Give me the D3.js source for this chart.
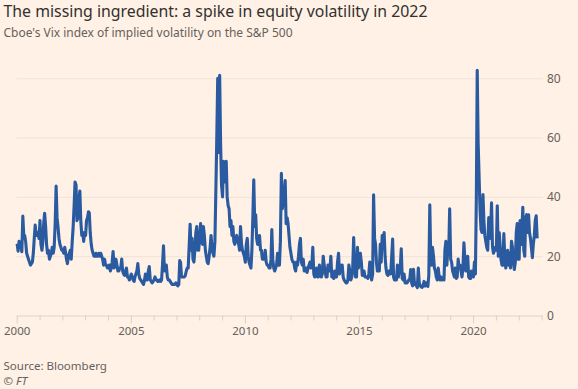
<!DOCTYPE html>
<html lang="en">
<head>
<meta charset="UTF-8">
<title>Vix index</title>
<style>
  html, body { margin: 0; padding: 0; background: #fff1e5; }
  svg { display: block; }
</style>
</head>
<body>
<script src="https://cdn.jsdelivr.net/npm/d3@7"></script>
<script>
// Vix, two readings a month (early / late)
var vix2000 = [24.2,21.7, 25,23.5, 24,21.5, 33.5,27, 27,25, 21,20, 19,18, 17,17.5, 18,21, 26,30.5, 27,28, 28,26];
var vix2001 = [32,24, 22,25, 31,34.5, 30,24, 21,22, 19,20, 21,23, 21,23, 31,43.7, 33,30, 26,24, 23,22];
var vix2002 = [22,21, 23,21, 19,17.5, 20,21, 22,19, 25,30, 37,45, 44,32, 33,39, 42,32, 27,28, 25,28];
var vix2003 = [27,32, 33,35, 34.6,28, 24,22, 21,20, 20,21, 20,20, 21,20, 21,20, 19,17, 19,17, 17,16];
var vix2004 = [16,17, 15,16, 18,21.6, 16,17, 19,17, 15,15, 16,16, 19,15, 14,13.5, 15,16, 13,13, 12,13];
var vix2005 = [14,13, 12,11.5, 13,14, 15,17.5, 14,12.5, 12,11.5, 11,10.5, 12,14, 12,12, 15,16.5, 12,11.5, 11,11.5];
var vix2006 = [12,13, 12,12, 11.5,11.5, 12,11.5, 12,17, 23.5,15, 16,17, 13,12, 12,11.5, 11,10.5, 10.5,10.5, 10.5,11];
var vix2007 = [10.5,10, 10.5,18.5, 18,13, 13,13, 13,13.5, 15,16, 16,23, 30.8,22, 26,19, 18,22, 28,30, 22,22];
var vix2008 = [26,31, 25,24, 30,27, 22,20, 18,17.5, 20,23, 27,23, 21,20, 25,42, 60,80, 55,81, 58,44];
var vix2009 = [40,52, 45,48, 52,40, 37,36, 30,32, 27,30, 25,24, 26,27, 25,24, 22,30, 24,22, 21,20];
var vix2010 = [18,24, 26,20, 18,17, 16,22, 33,45.8, 30,34, 26,24, 24,27, 22,22, 19,20, 19,22, 18,17];
var vix2011 = [17,16, 16,19, 29,19, 16,15, 16,17, 21,17, 17,25, 48,36, 38,41, 45.5,31, 33,31, 27,23];
var vix2012 = [21,19, 18,18, 16,15, 18,17, 20,24, 26,18, 17,19, 15,15, 16,14.5, 16,17, 18,16, 17,23];
var vix2013 = [14,13, 14,16, 13,13, 17,14, 13,14, 20,17, 15,13, 13,17, 15,15, 20,13, 13,12.5, 15,13];
var vix2014 = [13,18, 21,14, 17,15, 17,13, 12,11.5, 11,11, 12,17, 15,12, 13,16, 26.3,16, 13,13, 23,16];
var vix2015 = [20,21, 18,13.5, 15,15, 13,13, 13,12.5, 14,18, 14,12, 14,40.7, 26,24, 18,15, 17,15, 24,18];
var vix2016 = [27,23, 28,20, 16,14, 13.5,15, 14,14, 20,25.8, 13,12, 12,12, 17,13, 15,16, 22.5,12.5, 12,14];
var vix2017 = [11,11, 11,11.5, 12,12, 15.5,11, 10,15.6, 10.5,11, 10,9.4, 16,11, 10,9.6, 9.5,10, 11.5,10, 10,11];
var vix2018 = [9.8,13.5, 37.3,19, 17,23, 20,16, 15,13, 12,16, 13,12, 13,12, 12.5,12, 22,25, 17,22, 22,36];
var vix2019 = [19,18, 15,14, 13,16, 12.5,13, 19,16, 17,15, 13,16, 24.5,19, 15,15, 20,13, 12.5,12.5, 15,14];
var vix2020 = [13,18, 14,40, 82.7,58, 46,35, 29,28, 40.8,32, 27,25, 23,22, 33,26, 28,38, 23,21, 22,23];
var vix2021 = [22,37, 20,28, 24,19, 17,17, 27.6,20, 16,20, 22,17, 21,16, 25,23, 18,15.5, 18,28, 31,19];
var vix2022 = [19,32, 24,30, 36.5,22, 20,33, 34,28, 34,28, 26,23, 19.5,24, 27,32, 33.6,26];

var years = [2000,2001,2002,2003,2004,2005,2006,2007,2008,2009,2010,2011,
             2012,2013,2014,2015,2016,2017,2018,2019,2020,2021,2022];
var yearValues = [vix2000,vix2001,vix2002,vix2003,vix2004,vix2005,vix2006,vix2007,
                  vix2008,vix2009,vix2010,vix2011,vix2012,vix2013,vix2014,vix2015,
                  vix2016,vix2017,vix2018,vix2019,vix2020,vix2021,vix2022];
var yTicks = [0, 20, 40, 60, 80];
var xLabelYears = [2000, 2005, 2010, 2015, 2020];

var title = "The missing ingredient: a spike in equity volatility in 2022";
var subtitle = "Cboe's Vix index of implied volatility on the S&P 500";
var source = "Source: Bloomberg";

// two readings a month: around the 8th and the 23rd
var data = [];
years.forEach(function(yr, i) {
    yearValues[i].forEach(function(v, j) {
        data.push({date: new Date(yr, Math.floor(j / 2), j % 2 ? 23 : 8), value: v});
    });
});

var width = 578, height = 389;
var font = "'Noto Sans', 'Open Sans', sans-serif";

var svg = d3.select("body").append("svg")
    .attr("width", width)
    .attr("height", height)
    .style("background", "#fff1e5");

var x = d3.scaleTime()
    .domain([new Date(2000, 0, 1), new Date(2023, 0, 1)])
    .range([16.7, 541.5]);

var y = d3.scaleLinear()
    .domain([0, 80])
    .range([315.5, 78.3]);

// titles
svg.append("text")
    .attr("x", 3.5).attr("y", 17.3)
    .attr("textLength", 424).attr("lengthAdjust", "spacingAndGlyphs")
    .style("font-family", font).style("font-size", "16px")
    .attr("fill", "#33302e")
    .text(title);

svg.append("text")
    .attr("x", 3.5).attr("y", 37)
    .attr("textLength", 289).attr("lengthAdjust", "spacingAndGlyphs")
    .style("font-family", font).style("font-size", "12.5px")
    .attr("fill", "#66605c")
    .text(subtitle);

// gridlines + right hand labels
var yAxis = svg.append("g")
    .attr("transform", "translate(16.7,0)")
    .call(d3.axisRight(y).tickValues(yTicks).tickSize(543 - 16.7).tickPadding(4));
yAxis.select(".domain").remove();
yAxis.selectAll(".tick line")
    .attr("stroke", function(d){ return d === 0 ? "#e0d3c8" : "#efe3d8"; });
yAxis.selectAll(".tick text")
    .style("font-family", font).style("font-size", "12px")
    .attr("fill", "#66605c");

// x axis with a tick every year
var xAxis = svg.append("g")
    .attr("transform", "translate(0,315.5)")
    .call(d3.axisBottom(x)
        .ticks(d3.timeYear.every(1))
        .tickSize(5)
        .tickFormat(function(d){ return xLabelYears.indexOf(d.getFullYear()) >= 0 ? d.getFullYear() : ""; }));
xAxis.select(".domain").remove();
xAxis.selectAll(".tick line").attr("stroke", "#dcd0c5");
xAxis.selectAll(".tick")
    .filter(function(d){ return xLabelYears.indexOf(d.getFullYear()) >= 0; })
    .select("line").attr("y2", 8);
xAxis.selectAll(".tick text")
    .attr("y", 11)
    .style("font-family", font).style("font-size", "11.5px")
    .attr("fill", "#66605c");

// the series
var line = d3.line()
    .x(function(d){ return x(d.date); })
    .y(function(d){ return y(d.value); });

svg.append("path")
    .datum(data)
    .attr("d", line)
    .attr("fill", "none")
    .attr("stroke", "#2a5a9f")
    .attr("stroke-width", 3.1)
    .attr("stroke-linejoin", "round");

// footer
svg.append("text")
    .attr("x", 3.5).attr("y", 370)
    .style("font-family", font).style("font-size", "11.5px")
    .attr("fill", "#66605c")
    .text(source);

svg.append("text")
    .attr("x", 3.5).attr("y", 385)
    .style("font-family", font).style("font-size", "11.5px")
    .style("font-style", "italic")
    .attr("fill", "#66605c")
    .text("\u00a9 FT");
</script>
</body>
</html>
